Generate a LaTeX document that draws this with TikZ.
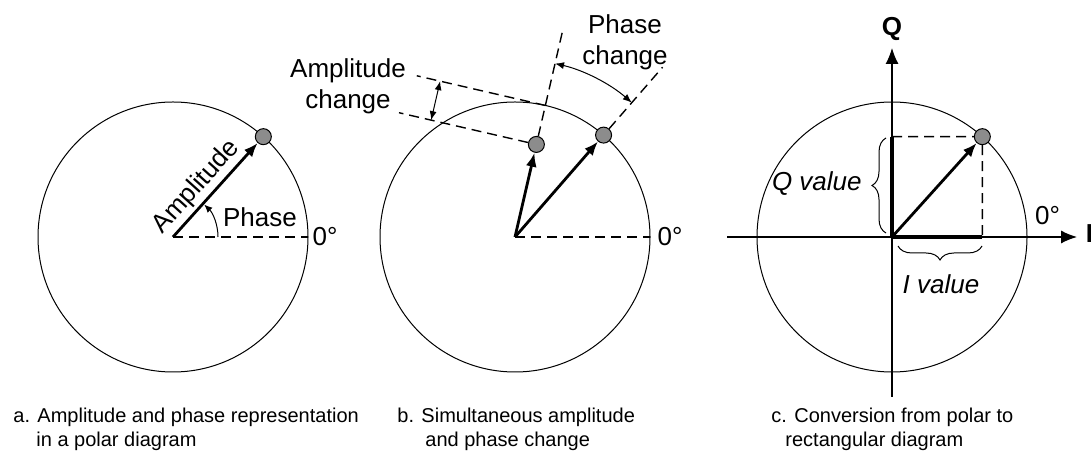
\documentclass[tikz,border=0pt]{standalone}
\usepackage{fontspec}
\setmainfont{Liberation Sans}
\usetikzlibrary{arrows.meta,calc,decorations.pathreplacing}

\begin{document}
\begin{tikzpicture}[x=.5pt, y=.5pt,
  every node/.style={font=\fontsize{13}{15.5}\selectfont, inner sep=0pt},
  rim/.style={line width=.5pt},
  guide/.style={line width=.7pt, dash pattern=on 5pt off 3pt},
  vec/.style={line width=1.4pt, -{Latex[length=7pt,width=5.5pt]}},
  comp/.style={line width=1.6pt},
  phasor/.style={circle, draw, line width=.5pt, fill=black!45, minimum size=8pt, inner sep=0pt},
  arcarrow/.style={line width=.5pt, -{Latex[length=4pt,width=3.5pt]}},
  twoarrow/.style={line width=.5pt, {Latex[length=4.5pt,width=3.5pt]}-{Latex[length=4.5pt,width=3.5pt]}},
  axisline/.style={line width=.6pt, -{Latex[length=8pt,width=6.5pt]}},
  brc/.style={line width=.5pt, decorate, decoration={brace, amplitude=7pt}},
  captext/.style={font=\fontsize{10}{12}\selectfont, anchor=base west}]

  \useasboundingbox (0,0) rectangle (1091,454);

  % Centres of the three polar diagrams.
  \coordinate (oa) at (173,217);
  \coordinate (ob) at (515,217);
  \coordinate (oc) at (892,217);
  \foreach \o in {oa,ob,oc}{\draw[rim] (\o) circle (135);}

  % a. amplitude and phase.
  \coordinate (za) at ($(oa)+(135,0)$);
  \draw[guide] (oa) -- (za);
  \node[phasor] (pa) at ($(oa)+(48:135)$) {};
  \draw[vec] (oa) -- (pa);
  \draw[arcarrow] ($(oa)+(45,0)$) arc[start angle=0, end angle=46, radius=45];
  \node (phase) at ($(oa)+(87,19.5)$) {Phase};
  \node[rotate=48] (amp) at ($(oa)+(48:53)+(138:16)$) {Amplitude};
  \node (dega) at ($(oa)+(152,0)$) {0°};

  % b. both change at once.
  \node[phasor] (pb1) at ($(ob)+(49:135)$) {};
  \node[phasor] (pb2) at ($(ob)+(77:95)$) {};
  \coordinate (zb) at ($(ob)+(135,0)$);
  \coordinate (rb1) at ($(ob)+(49:225)$);
  \coordinate (rb2) at ($(ob)+(77:212)$);
  \coordinate (tb) at ($(ob)+(77:135)$);
  \coordinate (lb1) at ($(tb)+(167:132)$);
  \coordinate (lb2) at ($(pb2)+(167:141)$);
  \coordinate (ab1) at ($(tb)+(167:108)$);
  \coordinate (ab2) at ($(pb2)+(167:108)$);
  \draw[guide] (ob) -- (zb);
  \draw[guide] (pb1) -- (rb1);
  \draw[guide] (pb2) -- (rb2);
  \draw[guide] (tb) -- (lb1);
  \draw[guide] (pb2) -- (lb2);
  \draw[twoarrow] (ab1) -- (ab2);
  \draw[twoarrow] ($(ob)+(49:178)$) arc[start angle=49, end angle=77, radius=178];
  \draw[vec] (ob) -- (pb1);
  \draw[vec] (ob) -- (pb2);
  \node[align=center] (ampchg) at ($(ob)+(-167,151)$) {Amplitude\\change};
  \node[align=center] (phchg) at ($(ob)+(110,195)$) {Phase\\change};
  \node (degb) at ($(ob)+(155,0)$) {0°};

  % c. I/Q axes and components.
  \coordinate (cl) at ($(oc)+(-165,0)$);
  \coordinate (cr) at ($(oc)+(185,0)$);
  \coordinate (cb) at ($(oc)+(0,-160)$);
  \coordinate (ct) at ($(oc)+(0,189)$);
  \draw[axisline] (cl) -- (cr);
  \draw[axisline] (cb) -- (ct);
  \node[phasor] (pc) at ($(oc)+(48:135)$) {};
  \coordinate (ic) at ($(oc)+(90.3,0)$);
  \coordinate (qc) at ($(oc)+(0,100.3)$);
  \draw[guide] (qc) -- (pc);
  \draw[guide] (pc) -- (ic);
  \draw[comp] (oc) -- (ic);
  \draw[comp] (oc) -- (qc);
  \draw[vec] (oc) -- (pc);
  \draw[brc] ($(oc)+(-6,4)$) -- ($(oc)+(-6,99)$);
  \draw[brc] ($(oc)+(90,-9)$) -- ($(oc)+(6,-9)$);
  \node[anchor=east] (qval) at ($(oc)+(-30,53)$) {\itshape Q value};
  \node (ival) at ($(oc)+(49,-47)$) {\itshape I value};
  \node (qlab) at ($(oc)+(0,208.5)$) {\bfseries Q};
  \node[anchor=west] (ilab) at ($(oc)+(193.5,3)$) {\bfseries I};
  \node (degc) at ($(oc)+(155.5,21)$) {0°};

  % Captions.
  \node[captext] (capa1) at (13,31) {a. Amplitude and phase representation};
  \node[captext] (capa2) at (36,7) {in a polar diagram};
  \node[captext] (capb1) at (397,31) {b. Simultaneous amplitude};
  \node[captext] (capb2) at (425,7) {and phase change};
  \node[captext] (capc1) at (771,31) {c. Conversion from polar to};
  \node[captext] (capc2) at (785,7) {rectangular diagram};
\end{tikzpicture}
\end{document}
